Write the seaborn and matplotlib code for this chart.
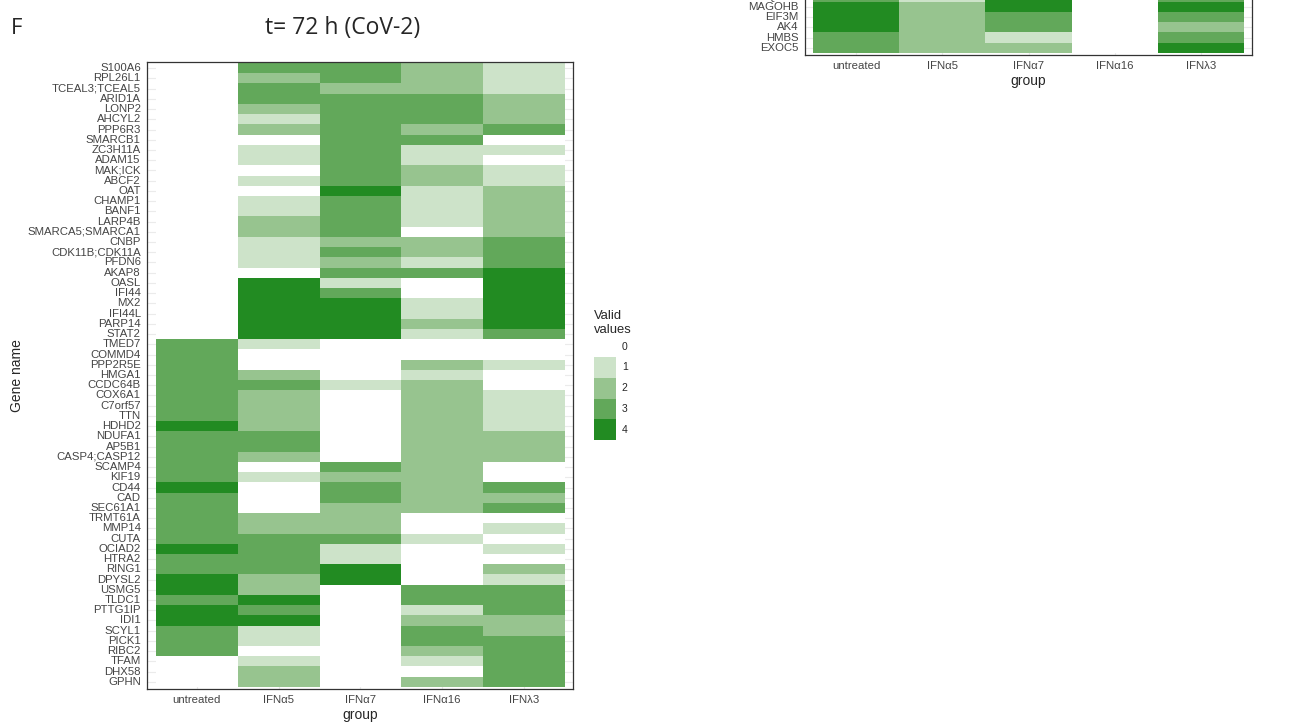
import numpy as np
import pandas as pd
import matplotlib.pyplot as plt
from matplotlib.colors import ListedColormap
from matplotlib.patches import Patch
import seaborn as sns

sns.set_style("white")
plt.rcParams["font.family"] = ["Liberation Sans", "DejaVu Sans"]

groups = ["untreated", "IFNα5", "IFNα7", "IFNα16", "IFNλ3"]

genes = ["S100A6", "RPL26L1", "TCEAL3;TCEAL5", "ARID1A", "LONP2", "AHCYL2", "PPP6R3",
         "SMARCB1", "ZC3H11A", "ADAM15", "MAK;ICK", "ABCF2", "OAT", "CHAMP1", "BANF1",
         "LARP4B", "SMARCA5;SMARCA1", "CNBP", "CDK11B;CDK11A", "PFDN6", "AKAP8", "OASL",
         "IFI44", "MX2", "IFI44L", "PARP14", "STAT2", "TMED7", "COMMD4", "PPP2R5E", "HMGA1",
         "CCDC64B", "COX6A1", "C7orf57", "TTN", "HDHD2", "NDUFA1", "AP5B1", "CASP4;CASP12",
         "SCAMP4", "KIF19", "CD44", "CAD", "SEC61A1", "TRMT61A", "MMP14", "CUTA", "OCIAD2",
         "HTRA2", "RING1", "DPYSL2", "USMG5", "TLDC1", "PTTG1IP", "IDI1", "SCYL1", "PICK1",
         "RIBC2", "TFAM", "DHX58", "GPHN"]

# number of valid values per group (0-4)
untreated = [0, 0, 0, 0, 0, 0, 0, 0, 0, 0, 0, 0, 0, 0, 0, 0, 0, 0, 0, 0, 0, 0, 0, 0, 0, 0, 0,
             3, 3, 3, 3, 3, 3, 3, 3, 4, 3, 3, 3, 3, 3, 4, 3, 3, 3, 3, 3, 4, 3, 3, 4, 4, 3, 4,
             4, 3, 3, 3, 0, 0, 0]
ifna5 = [3, 2, 3, 3, 2, 1, 2, 0, 1, 1, 0, 1, 0, 1, 1, 2, 2, 1, 1, 1, 0, 4, 4, 4, 4, 4, 4,
         1, 0, 0, 2, 3, 2, 2, 2, 2, 3, 3, 2, 0, 1, 0, 0, 0, 2, 2, 3, 3, 3, 3, 2, 2, 4, 3,
         4, 1, 1, 0, 1, 2, 2]
ifna7 = [3, 3, 2, 3, 3, 3, 3, 3, 3, 3, 3, 3, 4, 3, 3, 3, 3, 2, 3, 2, 3, 1, 3, 4, 4, 4, 4,
         0, 0, 0, 0, 1, 0, 0, 0, 0, 0, 0, 0, 3, 2, 3, 3, 2, 2, 2, 3, 1, 1, 4, 4, 0, 0, 0,
         0, 0, 0, 0, 0, 0, 0]
ifna16 = [2, 2, 2, 3, 3, 3, 2, 3, 1, 1, 2, 2, 1, 1, 1, 1, 0, 2, 2, 1, 3, 0, 0, 1, 1, 2, 1,
          0, 0, 2, 1, 2, 2, 2, 2, 2, 2, 2, 2, 2, 2, 2, 2, 2, 0, 0, 1, 0, 0, 0, 0, 3, 3, 1,
          2, 3, 3, 2, 1, 0, 2]
ifnl3 = [1, 1, 1, 2, 2, 2, 3, 0, 1, 0, 1, 1, 2, 2, 2, 2, 2, 3, 3, 3, 4, 4, 4, 4, 4, 4, 3,
         0, 0, 1, 0, 0, 1, 1, 1, 1, 2, 2, 2, 0, 0, 3, 2, 3, 0, 1, 0, 1, 0, 2, 1, 3, 3, 3,
         2, 2, 3, 3, 3, 3, 3]

# second panel, only its lower rows show at the top right
genes_b = ["UQCC1", "MAGOHB", "EIF3M", "AK4", "HMBS", "EXOC5"]
untreated_b = [3, 4, 4, 4, 3, 3]
ifna5_b = [1, 2, 2, 2, 2, 2]
ifna7_b = [4, 4, 3, 3, 1, 2]
ifna16_b = [0, 0, 0, 0, 0, 0]
ifnl3_b = [3, 4, 3, 2, 3, 4]

levels = ["0", "1", "2", "3", "4"]
colors = ["#ffffff", "#cde3c9", "#97c48f", "#62a85a", "#228b22"]
cmap = ListedColormap(colors)

df = pd.DataFrame(dict(zip(groups, [untreated, ifna5, ifna7, ifna16, ifnl3])), index=genes)
df_b = pd.DataFrame(dict(zip(groups, [untreated_b, ifna5_b, ifna7_b, ifna16_b, ifnl3_b])),
                    index=genes_b)

W, H = 1312, 725
fig = plt.figure(figsize=(W / 100, H / 100), dpi=100)


def px_axes(x0, y0, x1, y1):
    return fig.add_axes([x0 / W, 1 - y1 / H, (x1 - x0) / W, (y1 - y0) / H])


def style(ax, xlim, ylim):
    ax.set_xlim(*xlim)
    ax.set_ylim(*ylim)
    ax.set_axisbelow(True)
    ax.grid(True, color="#ebebeb", linewidth=0.8)
    for s in ax.spines.values():
        s.set_visible(True)
        s.set_color("#333333")
        s.set_linewidth(0.9)
    ax.tick_params(axis="both", length=3, width=0.8, color="#333333", pad=1.5,
                   labelsize=8.2, labelcolor="#444444")
    ax.tick_params(axis="y", rotation=0)
    ax.tick_params(axis="x", rotation=0)
    ax.set_xlabel("group", fontsize=10, labelpad=2)


ax = px_axes(147, 62, 573, 689)
sns.heatmap(df, cmap=cmap, vmin=-0.5, vmax=4.5, cbar=False, ax=ax,
            xticklabels=groups, yticklabels=genes)
style(ax, (-0.11, 5.1), (61.2, -0.1))
ax.set_ylabel("Gene name", fontsize=10, labelpad=3)

ax2 = px_axes(805, -9, 1252, 55)
sns.heatmap(df_b, cmap=cmap, vmin=-0.5, vmax=4.5, cbar=False, ax=ax2,
            xticklabels=groups, yticklabels=genes_b)
style(ax2, (-0.093, 5.093), (6.23, -0.11))
ax2.set_ylabel("")

handles = [Patch(facecolor=c, edgecolor="none") for c in colors]
fig.legend(handles, levels, loc="upper left", bbox_to_anchor=(589 / W, 1 - 305 / H),
           frameon=False, title="Valid\nvalues", title_fontsize=9.4, fontsize=7.5,
           handlelength=2.1, handleheight=2.7, labelspacing=0, handletextpad=0.55,
           borderpad=0, alignment="left")

fig.text(343 / W, 1 - 28 / H, "t= 72 h (CoV-2)", fontsize=16.5, ha="center", va="center",
         family=["Open Sans", "DejaVu Sans"])
fig.text(17 / W, 1 - 28 / H, "F", fontsize=16, ha="center", va="center",
         family=["Open Sans", "DejaVu Sans"])

fig.savefig("out.png", dpi=100)
